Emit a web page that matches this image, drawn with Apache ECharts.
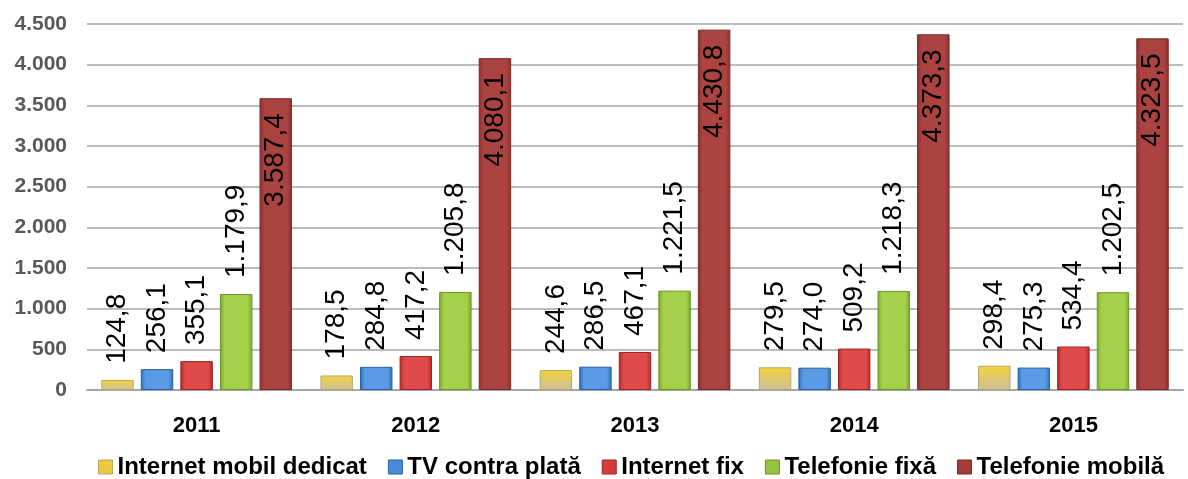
<!DOCTYPE html>
<html><head><meta charset="utf-8">
<script src="https://cdn.jsdelivr.net/npm/echarts@6/dist/echarts.min.js"></script>
<style>html,body{margin:0;padding:0;background:#fff}#c{width:1188px;height:479px}</style>
</head><body><div id="c"></div>
<script>
const categories = ['2011','2012','2013','2014','2015'];
const seriesNames = ['Internet mobil dedicat','TV contra plată','Internet fix','Telefonie fixă','Telefonie mobilă'];
const internetMobil = [124.8, 178.5, 244.6, 279.5, 298.4];
const tvPlata = [256.1, 284.8, 286.5, 274.0, 275.3];
const internetFix = [355.1, 417.2, 467.1, 509.2, 534.4];
const telefonieFixa = [1179.9, 1205.8, 1221.5, 1218.3, 1202.5];
const telefonieMobila = [3587.4, 4080.1, 4430.8, 4373.3, 4323.5];
const yTicks = [0, 500, 1000, 1500, 2000, 2500, 3000, 3500, 4000, 4500];

const allData = [internetMobil, tvPlata, internetFix, telefonieFixa, telefonieMobila];
// [edge, center, legend, border]
const palettes = [
  ['#c9bb90','#e8d36a','#ecc83a','#b8a66a'],
  ['#2f6db8','#5b9be6','#4a8ad8','#2a5f9f'],
  ['#b52a2a','#e04a4a','#d63c3c','#9c2424'],
  ['#7aa82e','#a5d04a','#95c23c','#6a9526'],
  ['#8e2f2d','#ab4340','#a33b39','#7a2826']
];

function fmt(v){
  const parts = v.toFixed(1).split('.');
  const int = parts[0].replace(/\B(?=(\d{3})+(?!\d))/g, '.');
  return int + ',' + parts[1];
}
function fmtAxis(v){
  return String(v).replace(/\B(?=(\d{3})+(?!\d))/g, '.');
}

const chart = echarts.init(document.getElementById('c'), null, {renderer:'canvas'});
const series = seriesNames.map((name, i) => {
  const p = palettes[i];
  const isLast = i === 4;
  const color = i === 0
    ? {type:'linear', x:0, y:0, x2:0, y2:1, colorStops:[
        {offset:0, color:'#f3d43a'}, {offset:1, color:'#cbbf9c'}]}
    : {type:'linear', x:0, y:0, x2:1, y2:0, colorStops:[
        {offset:0, color:p[0]}, {offset:0.15, color:p[1]}, {offset:0.85, color:p[1]}, {offset:1, color:p[0]}]};
  return {
    name, type: 'bar', data: allData[i],
    barGap: '22%', barCategoryGap: '13%',
    itemStyle: { color, borderColor: p[3], borderWidth: 1 },
    label: {
      show: true, rotate: 90,
      position: isLast ? 'insideTop' : 'top',
      align: isLast ? 'right' : 'left',
      verticalAlign: 'middle',
      distance: isLast ? 15 : 16,
      fontFamily: 'Liberation Sans', fontSize: 28, color: '#000',
      formatter: (d) => fmt(d.value)
    }
  };
});

chart.setOption({
  animation: false,
  grid: {left: 87, right: 5, top: 24, bottom: 89, containLabel: false},
  legend: {
    top: 455, left: 98, padding: 0, itemWidth: 14, itemHeight: 14, itemGap: 21, icon: 'rect',
    textStyle: {fontFamily: 'Liberation Sans', fontWeight: 'bold', fontSize: 24, color: '#000'},
    data: seriesNames.map((n, i) => ({name: n, itemStyle: {color: palettes[i][2], borderColor: palettes[i][3], borderWidth: 1}}))
  },
  xAxis: {
    type: 'category', data: categories,
    axisLine: {show: true, lineStyle: {color: '#a6a6a6', width: 2}},
    axisTick: {show: false},
    axisLabel: {margin: 25, fontFamily: 'Liberation Sans', fontWeight: 'bold', fontSize: 22, color: '#000'}
  },
  yAxis: {
    type: 'value', min: yTicks[0], max: yTicks[yTicks.length-1], interval: 500,
    axisLine: {show: false}, axisTick: {show: false},
    splitLine: {lineStyle: {color: '#a6a6a6', width: 1.5}},
    axisLabel: {margin: 20, fontFamily: 'Liberation Sans', fontWeight: 'bold', fontSize: 21, color: '#595959', formatter: fmtAxis}
  },
  series
});
</script></body></html>
